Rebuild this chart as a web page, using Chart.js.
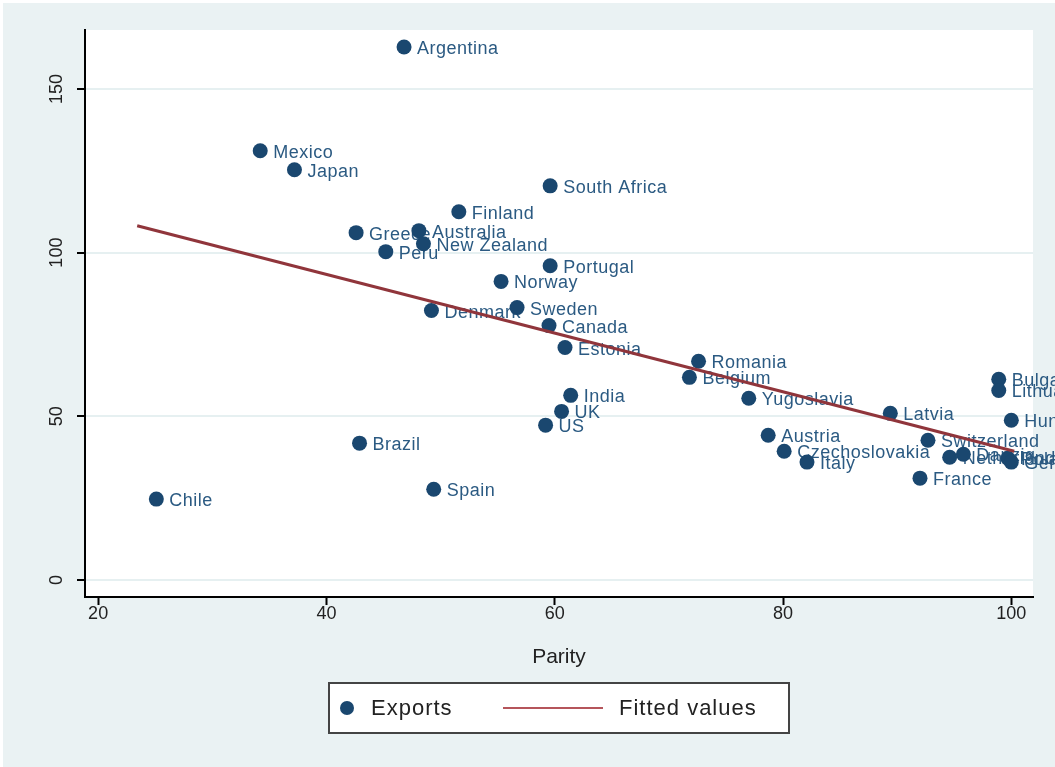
<!DOCTYPE html>
<html><head><meta charset="utf-8">
<script src="https://cdn.jsdelivr.net/npm/chart.js@4.4.1/dist/chart.umd.min.js"></script>
<style>html,body{margin:0;padding:0;background:#eaf2f3;}#wrap{width:1055px;height:767px;position:relative}</style>
</head><body><div id="wrap"><canvas id="c" width="1055" height="767"></canvas></div>
<script>
const countries = ["Argentina","Mexico","Japan","South Africa","Finland","Greece","Australia","New Zealand","Peru","Portugal","Norway","Sweden","Denmark","Canada","Estonia","Romania","Belgium","Bulgaria","Lithuania","India","Yugoslavia","UK","Latvia","Hungary","US","Austria","Switzerland","Brazil","Czechoslovakia","Danzig","Netherlands","Poland","Germany","Italy","France","Spain","Chile"];
const parity = [46.8,34.2,37.2,59.6,51.6,42.6,48.1,48.5,45.2,59.6,55.3,56.7,49.2,59.5,60.9,72.6,71.8,98.9,98.9,61.4,77.0,60.6,89.4,100.0,59.2,78.7,92.7,42.9,80.1,95.8,94.6,99.7,100.0,82.1,92.0,49.4,25.1];
const exportsVals = [162.8,131.1,125.3,120.4,112.5,106.1,106.7,102.7,100.3,96.0,91.2,83.2,82.3,77.7,71.0,66.8,61.9,61.3,57.9,56.4,55.5,51.5,50.9,48.8,47.3,44.2,42.7,41.8,39.3,38.4,37.5,37.2,36.0,36.0,31.1,27.7,24.7];
const fitParity = [23.42,100.26];
const fitValues = [108.2,39.3];
const xTicks = [20,40,60,80,100];
const yTicks = [0,50,100,150];
const xTitle = "Parity";
const seriesNames = ["Exports","Fitted values"];

const NAVY = "#1a476f", MAROON = "#90353b", BG = "#eaf2f3";
const FONT = "'Liberation Sans', Arial, sans-serif";

const decor = {
  id: "decor",
  beforeDraw(chart) {
    const ctx = chart.ctx, a = chart.chartArea;
    ctx.save();
    ctx.fillStyle = BG;
    ctx.fillRect(0, 0, chart.width, chart.height);
    ctx.fillStyle = "#ffffff";
    ctx.fillRect(0, 0, chart.width, 3);
    ctx.fillRect(0, 0, 3, chart.height);
    ctx.fillRect(a.left, a.top, a.right - a.left, a.bottom - a.top);
    ctx.restore();
  },
  beforeDatasetsDraw(chart) {
    const ctx = chart.ctx, xs = chart.scales.x, ys = chart.scales.y;
    ctx.save();
    ctx.font = "18px " + FONT;
    ctx.letterSpacing = "0.5px";
    ctx.fillStyle = "#2b5a82";
    ctx.textAlign = "left";
    ctx.textBaseline = "middle";
    countries.forEach((name, i) => {
      const px = xs.getPixelForValue(parity[i]);
      const py = ys.getPixelForValue(exportsVals[i]);
      ctx.fillText(name, px + 13, py + 2);
    });
    ctx.restore();
  },
  afterDraw(chart) {
    const ctx = chart.ctx, ys = chart.scales.y, a = chart.chartArea;
    ctx.save();
    ctx.font = "18px " + FONT;
    ctx.fillStyle = "#222";
    ctx.textAlign = "center";
    ctx.textBaseline = "middle";
    yTicks.forEach(v => {
      const y = ys.getPixelForValue(v);
      ctx.save();
      ctx.translate(57, y);
      ctx.rotate(-Math.PI / 2);
      ctx.fillText(String(v), 0, 0);
      ctx.restore();
    });
    // legend
    const cx = (a.left + a.right) / 2;
    const bw = 460, bh = 50, bx = cx - bw / 2, by = 683;
    ctx.fillStyle = "#fff";
    ctx.fillRect(bx, by, bw, bh);
    ctx.strokeStyle = "#444";
    ctx.lineWidth = 2;
    ctx.strokeRect(bx, by, bw, bh);
    const my = by + bh / 2;
    ctx.fillStyle = NAVY;
    ctx.beginPath();
    ctx.arc(bx + 18, my, 7, 0, Math.PI * 2);
    ctx.fill();
    ctx.font = "22px " + FONT;
    ctx.letterSpacing = "1px";
    ctx.fillStyle = "#222";
    ctx.textAlign = "left";
    ctx.fillText(seriesNames[0], bx + 42, my + 1);
    ctx.strokeStyle = "#b5555b";
    ctx.lineWidth = 2;
    ctx.beginPath();
    ctx.moveTo(bx + 174, my);
    ctx.lineTo(bx + 274, my);
    ctx.stroke();
    ctx.fillText(seriesNames[1], bx + 290, my + 1);
    ctx.restore();
  }
};

new Chart(document.getElementById("c"), {
  type: "scatter",
  data: {
    datasets: [
      {
        label: seriesNames[0],
        data: parity.map((x, i) => ({ x: x, y: exportsVals[i] })),
        backgroundColor: NAVY,
        borderWidth: 0,
        pointRadius: 7.5,
        pointHoverRadius: 7.5,
        order: 2
      },
      {
        label: seriesNames[1],
        type: "line",
        data: fitParity.map((x, i) => ({ x: x, y: fitValues[i] })),
        borderColor: MAROON,
        borderWidth: 3,
        pointRadius: 0,
        fill: false,
        order: 1
      }
    ]
  },
  options: {
    responsive: false,
    animation: false,
    devicePixelRatio: 1,
    layout: { padding: { top: 30, right: 22, left: 0, bottom: 0 } },
    plugins: { legend: { display: false }, tooltip: { enabled: false } },
    scales: {
      x: {
        type: "linear",
        min: 18.85, max: 101.9,
        afterBuildTicks: s => { s.ticks = xTicks.map(v => ({ value: v })); },
        afterFit: s => { s.height = 170; },
        ticks: { color: "#222", font: { family: FONT, size: 18 }, padding: -2 },
        grid: { display: true, drawOnChartArea: false, drawTicks: true, tickLength: 8, tickColor: "#000", tickWidth: 2 },
        border: { display: true, color: "#000", width: 2 },
        title: { display: true, text: xTitle, color: "#222", font: { family: FONT, size: 21 }, padding: { top: 14, bottom: 97 } }
      },
      y: {
        type: "linear",
        min: -5.2, max: 168,
        afterBuildTicks: s => { s.ticks = yTicks.map(v => ({ value: v })); },
        afterFit: s => { s.width = 85; },
        ticks: { display: false },
        grid: { display: true, color: "#e6f0f1", lineWidth: 2, drawTicks: true, tickLength: 8, tickColor: "#000", tickWidth: 2 },
        border: { display: true, color: "#000", width: 2 }
      }
    }
  },
  plugins: [decor]
});
</script>
</body></html>
